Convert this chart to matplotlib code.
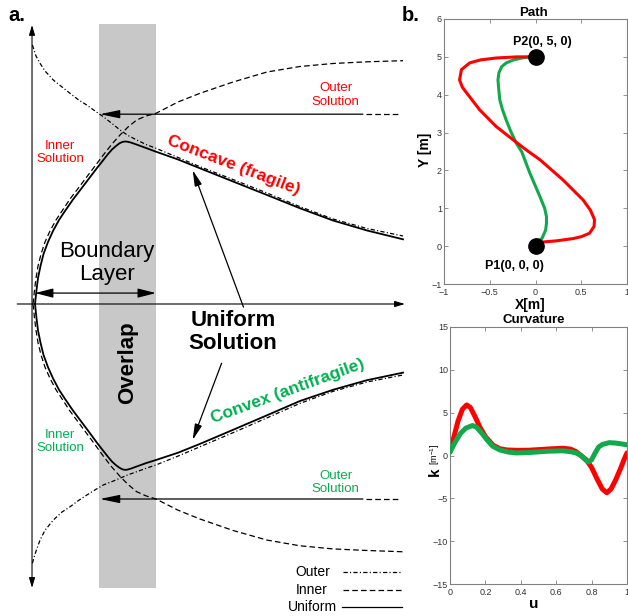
import matplotlib
matplotlib.use("Agg")
import matplotlib.pyplot as plt

plt.rcParams['font.family'] = ['Liberation Sans', 'DejaVu Sans']
plt.rcParams['mathtext.fontset'] = 'custom'
plt.rcParams['mathtext.rm'] = 'Liberation Sans'

RED = '#ff0000'
GREEN = '#00b050'
PATH_GREEN = '#12a84c'

# ---------------- panel a: matched asymptotic solutions (schematic) ----------------
# x: scale variable (0 at the vertical axis), y: response (0 at the horizontal axis)
outer_x = [0.001, 0.0054, 0.0108, 0.0216, 0.0350, 0.0574, 0.0809, 0.1024, 0.1240, 0.1474, 0.1698, 0.1922, 0.2156,
           0.2372, 0.2588, 0.2822, 0.3073, 0.3342, 0.3935, 0.4528, 0.5418, 0.6334, 0.7224, 0.8113, 0.9030, 1.0]
outer_up_y = [0.9962, 0.9769, 0.9538, 0.9258, 0.8962, 0.8615, 0.8346, 0.8104, 0.7865, 0.7654, 0.7423, 0.7204, 0.6942,
              0.6692, 0.6481, 0.6308, 0.6135, 0.5988, 0.5635, 0.5281, 0.4788, 0.4269, 0.3742, 0.3269, 0.2904, 0.2615]
outer_lo_y = [-0.997, -0.975, -0.950, -0.908, -0.870, -0.831, -0.800, -0.780, -0.757, -0.735, -0.715, -0.696, -0.683,
              -0.670, -0.657, -0.645, -0.632, -0.619, -0.585, -0.549, -0.495, -0.438, -0.382, -0.336, -0.300, -0.273]

inner_x = [0.002, 0.0035, 0.0067, 0.0108, 0.0162, 0.0243, 0.0350, 0.0485, 0.0647, 0.0809, 0.1024, 0.1240, 0.1474,
           0.1698, 0.1922, 0.2156, 0.2372, 0.2588, 0.2822, 0.3073, 0.3342, 0.3935, 0.4528, 0.5418, 0.6334, 0.7224,
           0.8113, 0.9030, 1.0]
inner_up_y = [0.0, 0.0088, 0.0538, 0.1, 0.1462, 0.1923, 0.2385, 0.2808, 0.3231, 0.3577, 0.4038, 0.4442, 0.4885,
              0.5308, 0.5731, 0.6154, 0.65, 0.6808, 0.7077, 0.7231, 0.7335, 0.7769, 0.8104, 0.8538, 0.8923, 0.9135,
              0.925, 0.9315, 0.9358]
inner_lo_y = [0.0, -0.009, -0.055, -0.102, -0.149, -0.196, -0.243, -0.286, -0.330, -0.365, -0.412, -0.453, -0.498,
              -0.541, -0.585, -0.628, -0.663, -0.694, -0.722, -0.738, -0.750, -0.793, -0.827, -0.871, -0.908, -0.930,
              -0.942, -0.948, -0.953]

unif_x = [0.0081, 0.0121, 0.0162, 0.0229, 0.0310, 0.0431, 0.0566, 0.0728, 0.0889, 0.1105, 0.1321, 0.1536, 0.1752,
          0.1922, 0.2049, 0.2156, 0.2264, 0.2358, 0.2439, 0.2507, 0.2574, 0.2668, 0.2822, 0.3073, 0.3342, 0.3935,
          0.4528, 0.5418, 0.6334, 0.7224, 0.8113, 0.9030, 1.0]
unif_up_y = [0.0, 0.0538, 0.1, 0.1462, 0.1923, 0.2385, 0.2808, 0.3231, 0.3577, 0.4019, 0.4423, 0.4827, 0.5231,
             0.5538, 0.5769, 0.5942, 0.6077, 0.6181, 0.6235, 0.625, 0.6242, 0.6208, 0.6131, 0.6, 0.5858, 0.5558,
             0.5219, 0.4712, 0.4192, 0.3681, 0.3212, 0.2827, 0.2488]
unif_lo_y = [0.0, -0.055, -0.102, -0.149, -0.196, -0.243, -0.286, -0.330, -0.365, -0.410, -0.451, -0.492, -0.534,
             -0.565, -0.588, -0.606, -0.620, -0.630, -0.636, -0.638, -0.637, -0.633, -0.625, -0.612, -0.600, -0.572,
             -0.538, -0.484, -0.428, -0.373, -0.330, -0.293, -0.264]

overlap_band = (0.181, 0.334)
outer_level_up = 0.730
outer_level_lo = -0.750

# ---------------- panel b: trajectories and curvature ----------------
red_path_x = [-0.05, -0.20, -0.43, -0.60, -0.72, -0.81, -0.83, -0.80, -0.75, -0.61, -0.43, -0.24, -0.10,
              0.05, 0.30, 0.52, 0.60, 0.645, 0.64, 0.59, 0.50, 0.41, 0.23, 0.08, -0.01]
red_path_y = [5.00, 5.00, 4.97, 4.92, 4.84, 4.66, 4.39, 4.20, 4.04, 3.60, 3.16, 2.80, 2.54,
              2.28, 1.75, 1.22, 0.95, 0.70, 0.52, 0.34, 0.25, 0.20, 0.14, 0.11, 0.09]

green_path_x = [-0.05, -0.15, -0.24, -0.32, -0.37, -0.40, -0.41, -0.40, -0.39, -0.36, -0.32, -0.27, -0.21,
                -0.15, -0.06, 0.05, 0.10, 0.12, 0.12, 0.11, 0.07, -0.01]
green_path_y = [5.00, 4.97, 4.92, 4.84, 4.74, 4.58, 4.39, 4.10, 3.86, 3.60, 3.33, 3.03, 2.72,
                2.49, 1.92, 1.30, 1.00, 0.78, 0.60, 0.42, 0.20, 0.09]

p1 = (0.0, 0.0)
p2 = (0.0, 5.0)

u_red = [0.0, 0.02, 0.045, 0.07, 0.094, 0.115, 0.14, 0.169, 0.20, 0.243, 0.28, 0.318, 0.38, 0.449, 0.55,
         0.637, 0.68, 0.712, 0.74, 0.77, 0.80, 0.83, 0.86, 0.886, 0.91, 0.935, 0.964, 0.985, 1.0]
k_red = [0.4, 2.0, 4.0, 5.4, 5.9, 5.6, 4.6, 3.3, 2.2, 1.2, 0.8, 0.65, 0.6, 0.62, 0.75,
         0.85, 0.75, 0.45, 0.0, -0.5, -1.4, -2.7, -3.9, -4.35, -3.9, -2.9, -1.5, -0.4, 0.3]

u_green = [0.0, 0.03, 0.06, 0.09, 0.127, 0.15, 0.18, 0.206, 0.24, 0.281, 0.33, 0.375, 0.45, 0.55, 0.637,
           0.68, 0.712, 0.74, 0.765, 0.783, 0.80, 0.82, 0.84, 0.862, 0.90, 0.936, 0.97, 1.0]
k_green = [0.4, 1.6, 2.6, 3.2, 3.5, 3.3, 2.6, 1.9, 1.1, 0.65, 0.4, 0.3, 0.35, 0.5, 0.55,
           0.45, 0.3, 0.0, -0.5, -0.75, -0.5, 0.3, 1.0, 1.3, 1.5, 1.45, 1.35, 1.25]

path_xticks = [-1, -0.5, 0, 0.5, 1]
path_xticklabels = ['\u22121', '\u22120.5', '0', '0.5', '1']
path_yticks = [-1, 0, 1, 2, 3, 4, 5, 6]
path_yticklabels = ['\u22121', '0', '1', '2', '3', '4', '5', '6']
curv_xticks = [0, 0.2, 0.4, 0.6, 0.8, 1]
curv_xticklabels = ['0', '0.2', '0.4', '0.6', '0.8', '1']
curv_yticks = [-15, -10, -5, 0, 5, 10, 15]
curv_yticklabels = ['\u221215', '\u221210', '\u22125', '0', '5', '10', '15']

W, H = 628, 616
fig = plt.figure(figsize=(W / 100, H / 100), dpi=100)
fig.patch.set_facecolor('white')

# ================= panel a =================
ax = fig.add_axes([0, 0, 420 / W, 1])
ax.set_xlim(-0.0863, 1.0458)
ax.set_ylim(-1.2, 1.1692)
ax.axis('off')

ax.fill_betweenx([-1.092, 1.077], overlap_band[0], overlap_band[1], color='#c8c8c8', lw=0, zorder=0)

dashdot = (0, (3.4, 1.8, 0.9, 1.8))
dashed = (0, (4.5, 2.5))
lw_thin = 0.9
lw_unif = 1.3

for ys in (outer_up_y, outer_lo_y):
    ax.plot(outer_x, ys, color='k', lw=lw_thin, ls=dashdot, zorder=2)
for ys in (inner_up_y, inner_lo_y):
    ax.plot(inner_x, ys, color='k', lw=lw_thin, ls=dashed, zorder=2)
for ys in (unif_up_y, unif_lo_y):
    ax.plot(unif_x, ys, color='k', lw=lw_unif, ls='-', zorder=3, solid_joinstyle='round')


def arrow(tip, tail, style='-|>', hl=1.2, hw=0.25, lw=0.9):
    ax.annotate('', xy=tip, xytext=tail, zorder=4,
                arrowprops=dict(arrowstyle=f'{style},head_length={hl},head_width={hw}',
                                color='k', lw=lw, mutation_scale=10, shrinkA=0, shrinkB=0))


# coordinate axes
arrow((0.0, 1.073), (0.0, -1.092), style='<|-|>', hl=0.6, hw=0.18, lw=0.8)
arrow((1.005, 0.0), (-0.040, 0.0), hl=0.6, hw=0.18, lw=0.8)

# outer-solution level arrows with dashed continuation
for lvl in (outer_level_up, outer_level_lo):
    arrow((overlap_band[0] + 0.002, lvl), (0.892, lvl))
    ax.plot([0.90, 0.995], [lvl, lvl], color='k', lw=lw_thin, ls=dashed, zorder=2)

# boundary layer extent
arrow((overlap_band[1], 0.042), (0.008, 0.042), style='<|-|>', hl=1.1, hw=0.28)

# pointers from the "Uniform Solution" label
arrow((0.433, 0.515), (0.570, -0.012), hl=0.95, hw=0.22)
arrow((0.433, -0.523), (0.511, -0.228), hl=0.95, hw=0.22)

ax.text(0.819, 0.804, 'Outer\nSolution', color=RED, fontsize=9.5, ha='center', va='center', linespacing=1.15)
ax.text(0.0755, 0.583, 'Inner\nSolution', color=RED, fontsize=9.5, ha='center', va='center', linespacing=1.15)
ax.text(0.543, 0.535, 'Concave (fragile)', color=RED, fontsize=12.5, fontweight='bold',
        rotation=-21, ha='center', va='center', rotation_mode='anchor')
ax.text(0.202, 0.158, 'Boundary\nLayer', color='k', fontsize=16, ha='center', va='center', linespacing=1.15)
ax.text(0.542, -0.108, 'Uniform\nSolution', color='k', fontsize=16, fontweight='bold',
        ha='center', va='center', linespacing=1.1)
ax.text(0.259, -0.227, 'Overlap', color='k', fontsize=16, fontweight='bold',
        rotation=90, ha='center', va='center')
ax.text(0.688, -0.337, 'Convex (antifragile)', color=GREEN, fontsize=12.5, fontweight='bold',
        rotation=20, ha='center', va='center', rotation_mode='anchor')
ax.text(0.0755, -0.529, 'Inner\nSolution', color=GREEN, fontsize=9.5, ha='center', va='center', linespacing=1.15)
ax.text(0.819, -0.687, 'Outer\nSolution', color=GREEN, fontsize=9.5, ha='center', va='center', linespacing=1.15)

# line-style key
key = [('Outer', dashdot, -1.031, 0.803, 0.838),
       ('Inner', dashed, -1.100, 0.798, 0.838),
       ('Uniform', '-', -1.165, 0.822, 0.836)]
for name, style, yk, xt, x0 in key:
    ax.text(xt, yk, name, fontsize=10, ha='right', va='center')
    ax.plot([x0, 0.997], [yk, yk], color='k', lw=lw_thin, ls=style)

fig.text(8 / W, 1 - 15.5 / H, 'a.', fontsize=14.5, fontweight='bold', ha='left', va='center')
fig.text(402 / W, 1 - 15.5 / H, 'b.', fontsize=14.5, fontweight='bold', ha='left', va='center')


# ================= panel b =================
def style_axes(a):
    for s in a.spines.values():
        s.set_color('#808080')
        s.set_linewidth(0.8)
    a.tick_params(direction='in', top=True, right=True, length=3, width=0.6,
                  color='#808080', labelsize=6.5, labelcolor='#333333', pad=1.5)
    a.tick_params(axis='x', pad=3)


axp = fig.add_axes([444 / W, 1 - 284 / H, 183 / W, 265 / H])
axp.plot(red_path_x, red_path_y, color=RED, lw=2.2, solid_capstyle='round', solid_joinstyle='round', zorder=3)
axp.plot(green_path_x, green_path_y, color=PATH_GREEN, lw=2.2, solid_capstyle='round', solid_joinstyle='round', zorder=2)
axp.plot([p1[0], p2[0]], [p1[1], p2[1]], ls='none', marker='o', ms=11, color='k', zorder=4)
axp.text(0.08, 5.4, 'P2(0, 5, 0)', fontsize=9, fontweight='bold', ha='center', va='center')
axp.text(-0.23, -0.53, 'P1(0, 0, 0)', fontsize=9, fontweight='bold', ha='center', va='center')
axp.set_xlim(-1, 1)
axp.set_ylim(-1, 6)
axp.set_xticks(path_xticks)
axp.set_xticklabels(path_xticklabels)
axp.set_yticks(path_yticks)
axp.set_yticklabels(path_yticklabels)
style_axes(axp)
fig.text(533 / W, 1 - 12.5 / H, 'Path', fontsize=9.5, fontweight='bold', ha='center', va='center')
fig.text(425 / W, 1 - 150 / H, 'Y [m]', fontsize=10, fontweight='bold', rotation=90, ha='center', va='center')
fig.text(530 / W, 1 - 305 / H, 'X[m]', fontsize=10, fontweight='bold', ha='center', va='center')

axc = fig.add_axes([450 / W, 1 - 584 / H, 177 / W, 257 / H])
axc.plot(u_red, k_red, color=RED, lw=3.6, solid_capstyle='round', solid_joinstyle='round', zorder=2)
axc.plot(u_green, k_green, color=PATH_GREEN, lw=3.6, solid_capstyle='round', solid_joinstyle='round', zorder=3)
axc.set_xlim(0, 1)
axc.set_ylim(-15, 15)
axc.set_xticks(curv_xticks)
axc.set_xticklabels(curv_xticklabels)
axc.set_yticks(curv_yticks)
axc.set_yticklabels(curv_yticklabels)
style_axes(axc)
fig.text(534 / W, 1 - 319.5 / H, 'Curvature', fontsize=9.5, fontweight='bold', ha='center', va='center')
fig.text(435 / W, 1 - 472 / H, 'k', fontsize=11, fontweight='bold', rotation=90, ha='center', va='center')
fig.text(435 / W, 1 - 454 / H, '[m$^{-1}$]', fontsize=6.5, rotation=90, ha='center', va='center')
fig.text(534 / W, 1 - 604 / H, 'u', fontsize=11, fontweight='bold', ha='center', va='center')

fig.savefig('out.png', dpi=100, facecolor='white')
